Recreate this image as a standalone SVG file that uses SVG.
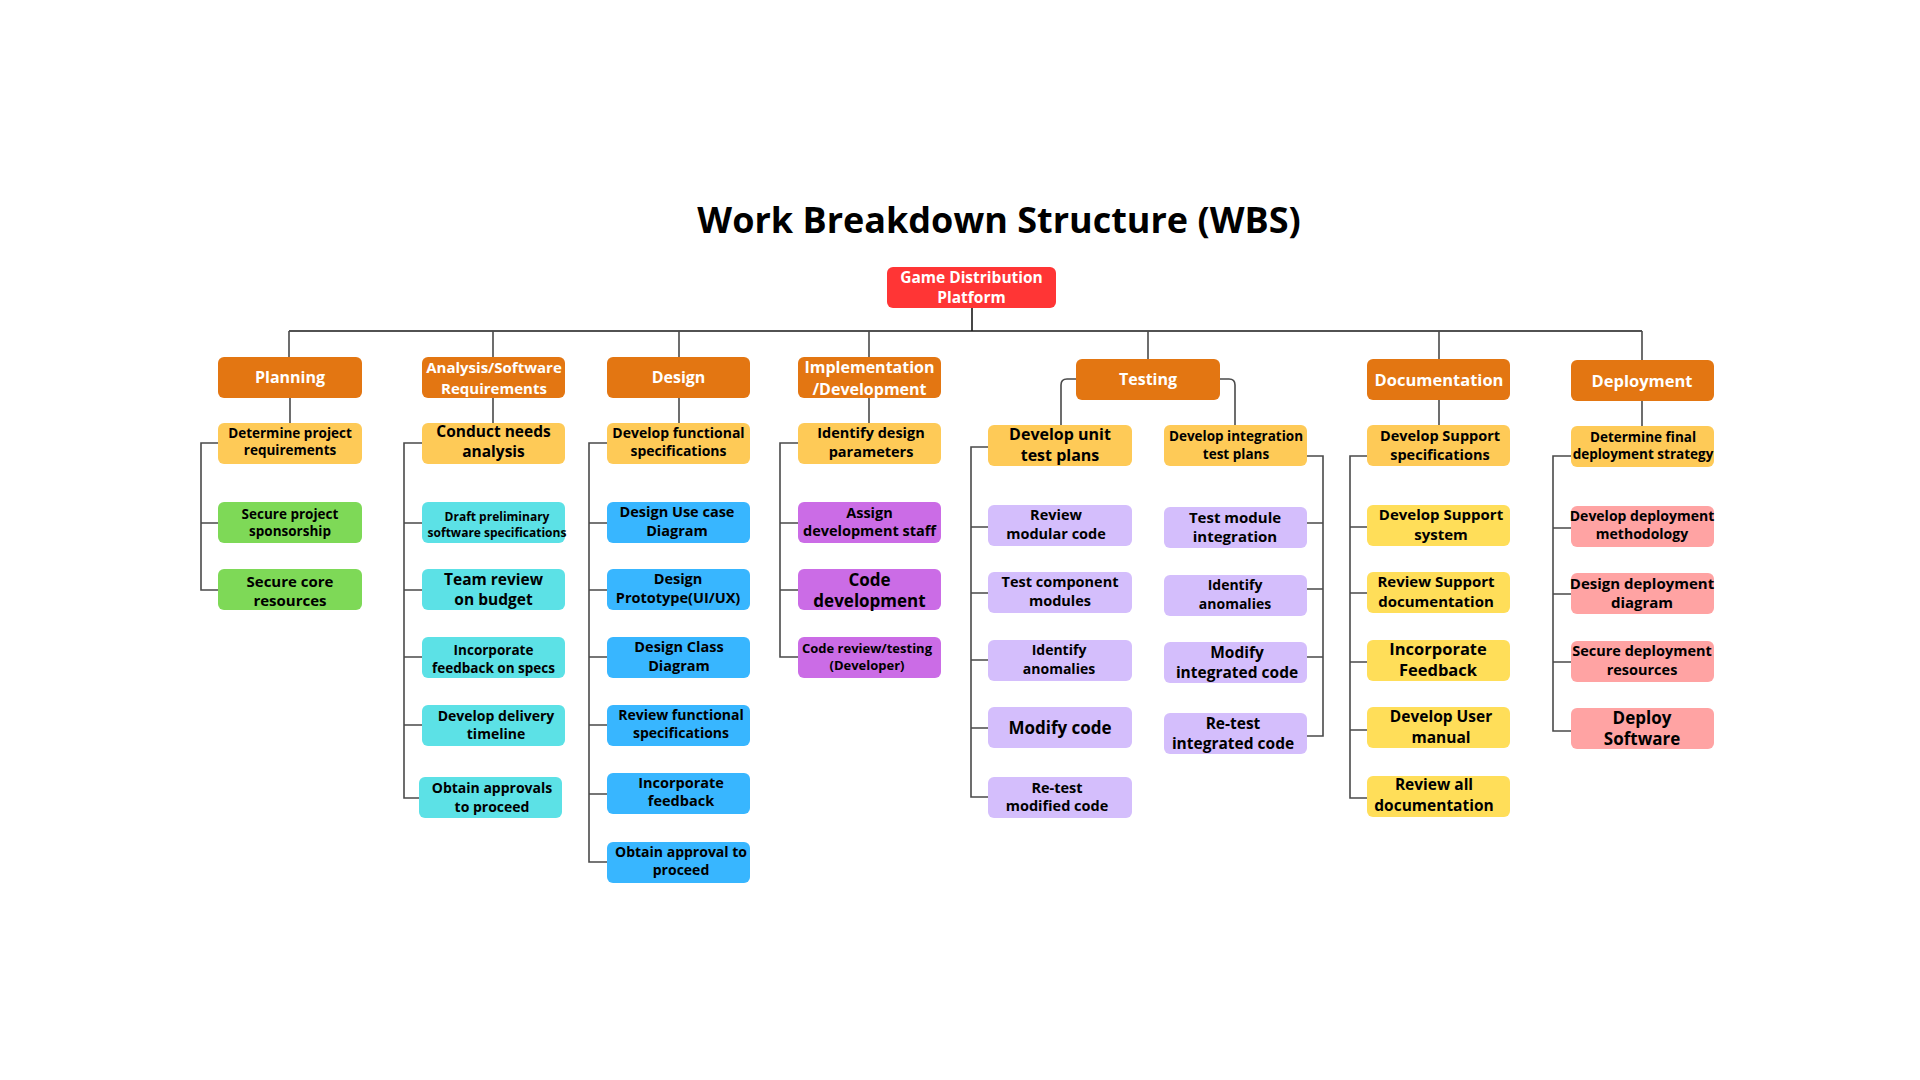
<svg xmlns="http://www.w3.org/2000/svg" width="1920" height="1080" viewBox="0 0 1920 1080">
<style>
text{font-family:"Open Sans","Noto Sans","Liberation Sans",sans-serif;font-weight:700;text-anchor:middle;fill:#000}
.w{fill:#fff}
.title{font-size:36px}
.cn{fill:none;stroke:#4a4a4a;stroke-width:1.6}
.main{fill:none;stroke:#1a1a1a;stroke-width:1.6}
.root{fill:#FF3535}
.cat{fill:#E37612}
.y1{fill:#FECA57}
.gr{fill:#7ED957}
.cy{fill:#5CE1E6}
.bl{fill:#38B6FF}
.pu{fill:#CB6CE6}
.lv{fill:#D4BEFC}
.y2{fill:#FFDE59}
.pk{fill:#FFA3A3}
</style>
<rect width="1920" height="1080" fill="#fff"/>
<text class="title" x="999" y="233">Work Breakdown Structure (WBS)</text>

<g id="connectors">
<path class="main" d="M972 308V331M289 331H1642"/>
<path class="cn" d="M289 331V357M493 331V357M679 331V357M869 331V357M1148 331V359M1439 331V359M1642 331V360"/>
<path class="cn" d="M290 397V423M493 397V423M679 397V423M869 397V423M1439 400V425M1642 401V426"/>
<path class="cn" d="M1076 379H1067Q1061 379 1061 385V425M1220 379H1229Q1235 379 1235 385V425"/>
<path class="cn" d="M218 443H201V590H218M201 523H218"/>
<path class="cn" d="M422 443H404V798H419M404 523H422M404 590H422M404 657H422M404 725H422"/>
<path class="cn" d="M607 443H589V862H607M589 523H607M589 590H607M589 657H607M589 725H607M589 794H607"/>
<path class="cn" d="M798 443H780V657H798M780 523H798M780 590H798"/>
<path class="cn" d="M988 447H971V797H988M971 527H988M971 593H988M971 660H988M971 728H988"/>
<path class="cn" d="M1307 456H1323V736H1307M1323 523H1307M1323 589H1307M1323 657H1307"/>
<path class="cn" d="M1367 456H1350V798H1367M1350 527H1367M1350 593H1367M1350 662H1367M1350 730H1367"/>
<path class="cn" d="M1571 456H1553V731H1571M1553 528H1571M1553 594H1571M1553 662H1571"/>
</g>

<g id="root"><rect class="root" x="887" y="267" width="169" height="41" rx="6"/><text class="w" x="971.5" style="font-size:15.5px"><tspan x="971.5" y="282.5">Game Distribution</tspan><tspan x="971.5" y="302.5">Platform</tspan></text></g>

<!-- Planning -->
<g id="planning"><rect class="cat" x="218" y="357" width="144" height="41" rx="6"/><text class="w" x="290" y="383.3" style="font-size:16px">Planning</text></g>
<g id="p1"><rect class="y1" x="218" y="423" width="144" height="41" rx="6"/><text style="font-size:13.5px"><tspan x="290" y="438.3">Determine project</tspan><tspan x="290" y="455">requirements</tspan></text></g>
<g id="p2"><rect class="gr" x="218" y="502" width="144" height="41" rx="6"/><text style="font-size:13.5px"><tspan x="290" y="519">Secure project</tspan><tspan x="290" y="536">sponsorship</tspan></text></g>
<g id="p3"><rect class="gr" x="218" y="569" width="144" height="41" rx="6"/><text style="font-size:15px"><tspan x="290" y="587">Secure core</tspan><tspan x="290" y="605.5">resources</tspan></text></g>

<!-- Analysis -->
<g id="analysis"><rect class="cat" x="422" y="357" width="143" height="41" rx="6"/><text class="w" style="font-size:15px"><tspan x="494" y="373.3">Analysis/Software</tspan><tspan x="494" y="394">Requirements</tspan></text></g>
<g id="a1"><rect class="y1" x="422" y="423" width="143" height="41" rx="6"/><text style="font-size:15.5px"><tspan x="493.5" y="437">Conduct needs</tspan><tspan x="493.5" y="456.5">analysis</tspan></text></g>
<g id="a2"><rect class="cy" x="422" y="502" width="143" height="41" rx="6"/><text style="font-size:12px"><tspan x="497" y="521">Draft preliminary</tspan><tspan x="497" y="536.5">software specifications</tspan></text></g>
<g id="a3"><rect class="cy" x="422" y="569" width="143" height="41" rx="6"/><text style="font-size:15.5px"><tspan x="493.5" y="585">Team review</tspan><tspan x="493.5" y="605">on budget</tspan></text></g>
<g id="a4"><rect class="cy" x="422" y="637" width="143" height="41" rx="6"/><text style="font-size:13.5px"><tspan x="493.5" y="655">Incorporate</tspan><tspan x="493.5" y="673">feedback on specs</tspan></text></g>
<g id="a5"><rect class="cy" x="422" y="705" width="143" height="41" rx="6"/><text style="font-size:14px"><tspan x="496" y="720.7">Develop delivery</tspan><tspan x="496" y="739.3">timeline</tspan></text></g>
<g id="a6"><rect class="cy" x="419" y="777" width="143" height="41" rx="6"/><text style="font-size:14px"><tspan x="492" y="793.3">Obtain approvals</tspan><tspan x="492" y="811.7">to proceed</tspan></text></g>

<!-- Design -->
<g id="design"><rect class="cat" x="607" y="357" width="143" height="41" rx="6"/><text class="w" x="678.5" y="383.3" style="font-size:16px">Design</text></g>
<g id="d1"><rect class="y1" x="607" y="423" width="143" height="41" rx="6"/><text style="font-size:14px"><tspan x="678.5" y="438">Develop functional</tspan><tspan x="678.5" y="455.5">specifications</tspan></text></g>
<g id="d2"><rect class="bl" x="607" y="502" width="143" height="41" rx="6"/><text style="font-size:14.5px"><tspan x="677" y="517">Design Use case</tspan><tspan x="677" y="535.5">Diagram</tspan></text></g>
<g id="d3"><rect class="bl" x="607" y="569" width="143" height="41" rx="6"/><text style="font-size:14.5px"><tspan x="678" y="584">Design</tspan><tspan x="678" y="602.5">Prototype(UI/UX)</tspan></text></g>
<g id="d4"><rect class="bl" x="607" y="637" width="143" height="41" rx="6"/><text style="font-size:14.5px"><tspan x="679" y="652">Design Class</tspan><tspan x="679" y="670.5">Diagram</tspan></text></g>
<g id="d5"><rect class="bl" x="607" y="705" width="143" height="41" rx="6"/><text style="font-size:14px"><tspan x="681" y="720">Review functional</tspan><tspan x="681" y="737.5">specifications</tspan></text></g>
<g id="d6"><rect class="bl" x="607" y="773" width="143" height="41" rx="6"/><text style="font-size:14.5px"><tspan x="681" y="788">Incorporate</tspan><tspan x="681" y="806">feedback</tspan></text></g>
<g id="d7"><rect class="bl" x="607" y="842" width="143" height="41" rx="6"/><text style="font-size:14px"><tspan x="681" y="857">Obtain approval to</tspan><tspan x="681" y="875">proceed</tspan></text></g>

<!-- Implementation -->
<g id="impl"><rect class="cat" x="798" y="357" width="143" height="41" rx="6"/><text class="w" style="font-size:16px"><tspan x="869.5" y="373.3">Implementation</tspan><tspan x="869.5" y="395">/Development</tspan></text></g>
<g id="i1"><rect class="y1" x="798" y="423" width="143" height="41" rx="6"/><text style="font-size:14.5px"><tspan x="871" y="438">Identify design</tspan><tspan x="871" y="457">parameters</tspan></text></g>
<g id="i2"><rect class="pu" x="798" y="502" width="143" height="41" rx="6"/><text style="font-size:14.5px"><tspan x="869.5" y="518">Assign</tspan><tspan x="869.5" y="536">development staff</tspan></text></g>
<g id="i3"><rect class="pu" x="798" y="569" width="143" height="41" rx="6"/><text style="font-size:17px"><tspan x="869.5" y="585.5">Code</tspan><tspan x="869.5" y="606.5">development</tspan></text></g>
<g id="i4"><rect class="pu" x="798" y="637" width="143" height="41" rx="6"/><text style="font-size:13px"><tspan x="867" y="652.5">Code review/testing</tspan><tspan x="867" y="670">(Developer)</tspan></text></g>

<!-- Testing -->
<g id="testing"><rect class="cat" x="1076" y="359" width="144" height="41" rx="6"/><text class="w" x="1148" y="385.3" style="font-size:16px">Testing</text></g>
<g id="t1"><rect class="y1" x="988" y="425" width="144" height="41" rx="6"/><text style="font-size:16px"><tspan x="1060" y="440">Develop unit</tspan><tspan x="1060" y="461">test plans</tspan></text></g>
<g id="t2"><rect class="y1" x="1164" y="425" width="143" height="41" rx="6"/><text style="font-size:13.5px"><tspan x="1236" y="441">Develop integration</tspan><tspan x="1236" y="459">test plans</tspan></text></g>
<g id="t3"><rect class="lv" x="988" y="505" width="144" height="41" rx="6"/><text style="font-size:14.5px"><tspan x="1056" y="520">Review</tspan><tspan x="1056" y="539">modular code</tspan></text></g>
<g id="t4"><rect class="lv" x="988" y="572" width="144" height="41" rx="6"/><text style="font-size:14.5px"><tspan x="1060" y="587">Test component</tspan><tspan x="1060" y="606">modules</tspan></text></g>
<g id="t5"><rect class="lv" x="988" y="640" width="144" height="41" rx="6"/><text style="font-size:14px"><tspan x="1059" y="655">Identify</tspan><tspan x="1059" y="673.5">anomalies</tspan></text></g>
<g id="t6"><rect class="lv" x="988" y="707" width="144" height="41" rx="6"/><text x="1060" y="733.5" style="font-size:17px">Modify code</text></g>
<g id="t7"><rect class="lv" x="988" y="777" width="144" height="41" rx="6"/><text style="font-size:14.5px"><tspan x="1057" y="793">Re-test</tspan><tspan x="1057" y="811">modified code</tspan></text></g>
<g id="t8"><rect class="lv" x="1164" y="507" width="143" height="41" rx="6"/><text style="font-size:15px"><tspan x="1235" y="523">Test module</tspan><tspan x="1235" y="542">integration</tspan></text></g>
<g id="t9"><rect class="lv" x="1164" y="575" width="143" height="41" rx="6"/><text style="font-size:14px"><tspan x="1235" y="590">Identify</tspan><tspan x="1235" y="608.5">anomalies</tspan></text></g>
<g id="t10"><rect class="lv" x="1164" y="642" width="143" height="41" rx="6"/><text style="font-size:15.5px"><tspan x="1237" y="658">Modify</tspan><tspan x="1237" y="678">integrated code</tspan></text></g>
<g id="t11"><rect class="lv" x="1164" y="713" width="143" height="41" rx="6"/><text style="font-size:15.5px"><tspan x="1233" y="729">Re-test</tspan><tspan x="1233" y="749">integrated code</tspan></text></g>

<!-- Documentation -->
<g id="documentation"><rect class="cat" x="1367" y="359" width="143" height="41" rx="6"/><text class="w" x="1439" y="385.5" style="font-size:16.5px">Documentation</text></g>
<g id="o1"><rect class="y1" x="1367" y="425" width="143" height="41" rx="6"/><text style="font-size:14.5px"><tspan x="1440" y="441">Develop Support</tspan><tspan x="1440" y="459.5">specifications</tspan></text></g>
<g id="o2"><rect class="y2" x="1367" y="505" width="143" height="41" rx="6"/><text style="font-size:15px"><tspan x="1441" y="520">Develop Support</tspan><tspan x="1441" y="539.5">system</tspan></text></g>
<g id="o3"><rect class="y2" x="1367" y="572" width="143" height="41" rx="6"/><text style="font-size:15px"><tspan x="1436" y="587">Review Support</tspan><tspan x="1436" y="606.5">documentation</tspan></text></g>
<g id="o4"><rect class="y2" x="1367" y="640" width="143" height="41" rx="6"/><text style="font-size:16.5px"><tspan x="1438" y="654.5">Incorporate</tspan><tspan x="1438" y="675.5">Feedback</tspan></text></g>
<g id="o5"><rect class="y2" x="1367" y="707" width="143" height="41" rx="6"/><text style="font-size:15.5px"><tspan x="1441" y="722">Develop User</tspan><tspan x="1441" y="742.5">manual</tspan></text></g>
<g id="o6"><rect class="y2" x="1367" y="776" width="143" height="41" rx="6"/><text style="font-size:15.5px"><tspan x="1434" y="790">Review all</tspan><tspan x="1434" y="810.5">documentation</tspan></text></g>

<!-- Deployment -->
<g id="deployment"><rect class="cat" x="1571" y="360" width="143" height="41" rx="6"/><text class="w" x="1642" y="386.5" style="font-size:16.5px">Deployment</text></g>
<g id="e1"><rect class="y1" x="1571" y="426" width="143" height="41" rx="6"/><text style="font-size:13.5px"><tspan x="1643" y="441.5">Determine final</tspan><tspan x="1643" y="459">deployment strategy</tspan></text></g>
<g id="e2"><rect class="pk" x="1571" y="506" width="143" height="41" rx="6"/><text style="font-size:14px"><tspan x="1642" y="521">Develop deployment</tspan><tspan x="1642" y="539">methodology</tspan></text></g>
<g id="e3"><rect class="pk" x="1571" y="573" width="143" height="41" rx="6"/><text style="font-size:15px"><tspan x="1642" y="589">Design deployment</tspan><tspan x="1642" y="608">diagram</tspan></text></g>
<g id="e4"><rect class="pk" x="1571" y="641" width="143" height="41" rx="6"/><text style="font-size:14.5px"><tspan x="1642" y="656">Secure deployment</tspan><tspan x="1642" y="675">resources</tspan></text></g>
<g id="e5"><rect class="pk" x="1571" y="708" width="143" height="41" rx="6"/><text style="font-size:17px"><tspan x="1642" y="724">Deploy</tspan><tspan x="1642" y="745">Software</tspan></text></g>
</svg>
